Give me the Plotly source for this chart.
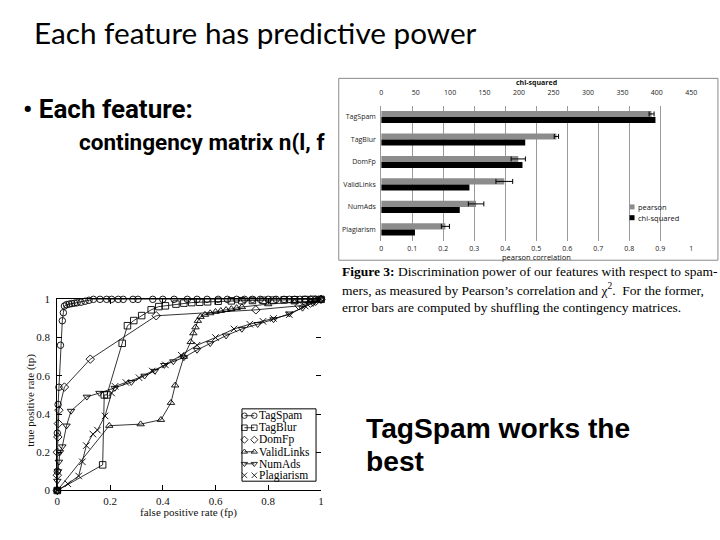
import plotly.graph_objects as go

W, H = 720, 540


def px(x):
    return x / W


def py(y):
    return 1 - y / H


# ---------------- data ----------------
features = ["TagSpam", "TagBlur", "DomFp", "ValidLinks", "NumAds", "Plagiarism"]
pearson = [0.872, 0.565, 0.442, 0.397, 0.306, 0.207]
pearson_err = [0.008, 0.007, 0.023, 0.027, 0.025, 0.013]
chi_squared = [398, 209, 205, 128, 114, 49]

tagspam_fp = [0, 0, 0, 0.003, 0.006, 0.012, 0.019, 0.023, 0.027, 0.035, 0.045, 0.055, 0.065,
              0.075, 0.09, 0.105, 0.12, 0.137, 0.162, 0.187, 0.206, 0.231, 0.25, 0.287, 0.306,
              0.362, 0.4, 0.443, 0.493, 0.53, 0.568, 0.61, 0.645, 0.68, 0.71, 0.74, 0.77, 0.8,
              0.83, 0.86, 0.88, 0.9, 0.92, 0.94, 0.96, 0.98, 1.0]
tagspam_tp = [0, 0.1, 0.3, 0.45, 0.54, 0.76, 0.888, 0.93, 0.965, 0.972, 0.975, 0.978, 0.98,
              0.982, 0.985, 0.99, 0.995, 1, 1, 1, 1, 1, 1, 1, 1, 1, 1, 1, 1, 1, 1, 1, 1, 1, 1,
              1, 1, 1, 1, 1, 1, 1, 1, 1, 1, 1, 1]

tagblur_fp = [0, 0.172, 0.178, 0.188, 0.246, 0.266, 0.29, 0.32, 0.356, 0.385, 0.41, 0.45, 0.48,
              0.51, 0.54, 0.57, 0.61, 0.66, 0.7, 0.74, 0.78, 0.82, 0.86, 0.9, 0.94, 0.97, 1.0]
tagblur_tp = [0, 0.134, 0.5, 0.5, 0.77, 0.862, 0.889, 0.915, 0.945, 0.962, 0.966, 0.975, 0.98,
              0.983, 0.985, 0.987, 0.99, 0.992, 0.993, 0.994, 0.995, 0.996, 0.997, 0.998, 0.999,
              1, 1]

domfp_fp = [0, 0, 0, 0.002, 0.004, 0.006, 0.027, 0.125, 0.375, 0.753, 0.917, 0.96, 0.98, 1.0]
domfp_tp = [0, 0.08, 0.2, 0.28, 0.35, 0.42, 0.541, 0.687, 0.914, 0.945, 0.966, 0.98, 0.99, 1.0]

validlinks_fp = [0, 0.197, 0.316, 0.393, 0.431, 0.447, 0.48, 0.506, 0.516, 0.524, 0.533, 0.543,
                 0.56, 0.58, 0.6, 0.62, 0.64, 0.66, 0.68, 0.7, 0.8, 0.9, 0.96, 1.0]
validlinks_tp = [0, 0.339, 0.347, 0.37, 0.459, 0.55, 0.70, 0.777, 0.823, 0.854, 0.888, 0.909,
                 0.92, 0.928, 0.935, 0.94, 0.945, 0.95, 0.955, 0.96, 0.975, 0.985, 0.99, 1.0]

numads_fp = [0, 0, 0.003, 0.006, 0.01, 0.019, 0.035, 0.052, 0.112, 0.16, 0.218, 0.281, 0.331,
             0.37, 0.406, 0.44, 0.48, 0.53, 0.58, 0.64, 0.7, 0.76, 0.82, 0.88, 0.93, 0.97, 1.0]
numads_tp = [0, 0.05, 0.1, 0.15, 0.2, 0.23, 0.339, 0.416, 0.49, 0.51, 0.536, 0.567, 0.6, 0.625,
             0.656, 0.675, 0.696, 0.735, 0.77, 0.81, 0.845, 0.87, 0.895, 0.925, 0.955, 0.98, 1.0]

plagiarism_fp = [0, 0.04, 0.081, 0.095, 0.11, 0.135, 0.152, 0.181, 0.206, 0.219, 0.26, 0.31,
                 0.36, 0.41, 0.47, 0.53, 0.6, 0.67, 0.73, 0.78, 0.82, 0.88, 0.94, 1.0]
plagiarism_tp = [0, 0.035, 0.076, 0.15, 0.235, 0.295, 0.316, 0.39, 0.51, 0.545, 0.565, 0.59,
                 0.625, 0.657, 0.708, 0.76, 0.8, 0.845, 0.87, 0.885, 0.9, 0.92, 0.965, 1.0]

roc_series = [
    ("TagSpam", tagspam_fp, tagspam_tp, "circle-open", True),
    ("TagBlur", tagblur_fp, tagblur_tp, "square-open", True),
    ("DomFp", domfp_fp, domfp_tp, "diamond-open", False),
    ("ValidLinks", validlinks_fp, validlinks_tp, "triangle-up-open", True),
    ("NumAds", numads_fp, numads_tp, "triangle-down-open", True),
    ("Plagiarism", plagiarism_fp, plagiarism_tp, "x-thin-open", False),
]

# ---------------- figure ----------------
fig = go.Figure()

SANS_SMALL = "Open Sans, Lato, sans-serif"
BAR_FONT = dict(family=SANS_SMALL, size=7, color="#222")
SERIF = "Liberation Serif, Times New Roman, serif"
NARROW_BOLD = "Roboto, Liberation Sans, Arial, sans-serif"

# bar chart
fig.add_trace(go.Bar(
    y=features, x=pearson, orientation="h", name="pearson",
    xaxis="x", yaxis="y", width=0.27, offset=-0.27,
    marker=dict(color="#8c8c8c", line=dict(width=0)),
    error_x=dict(type="data", array=pearson_err, color="black", thickness=1, width=2.5),
    showlegend=False,
))
fig.add_trace(go.Bar(
    y=features, x=chi_squared, orientation="h", name="chi-squared",
    xaxis="x2", yaxis="y", width=0.27, offset=0.0,
    marker=dict(color="black", line=dict(width=0)),
    showlegend=False,
))

# ROC curves
for name, fp, tp, sym, _ in roc_series:
    fig.add_trace(go.Scatter(
        x=fp, y=tp, mode="lines+markers", name=name,
        xaxis="x3", yaxis="y3", cliponaxis=False,
        line=dict(color="black", width=0.8),
        marker=dict(symbol=sym, size=6.5, color="black", line=dict(color="black", width=0.9)),
        showlegend=False,
    ))

# dummy trace for right-side ticks of ROC plot
fig.add_trace(go.Scatter(x=[], y=[], xaxis="x3", yaxis="y6", showlegend=False))

# manual ROC legend (pixel-space helper axes)
leg_rows = [419, 431.3, 443.6, 455.9, 468.2, 480]
for (name, fp, tp, sym, with_line), ry in zip(roc_series, leg_rows):
    fig.add_trace(go.Scatter(
        x=[244.5, 254.5], y=[ry, ry], mode="lines+markers" if with_line else "markers",
        xaxis="x5", yaxis="y5", cliponaxis=False, hoverinfo="skip",
        line=dict(color="black", width=0.8),
        marker=dict(symbol=sym, size=5.5, color="black", line=dict(color="black", width=0.8)),
        showlegend=False,
    ))

# manual bar legend
bar_leg = [("pearson", "#8c8c8c", 205.5), ("chi-squared", "black", 216.5)]
for name, col, ry in bar_leg:
    fig.add_trace(go.Scatter(
        x=[637], y=[ry], mode="markers", xaxis="x5", yaxis="y5", hoverinfo="skip",
        marker=dict(symbol="square", size=5, color=col), showlegend=False,
    ))


def note(x, y, text, font, xanchor="center", yanchor="middle", **kw):
    return dict(x=px(x), y=py(y), xref="paper", yref="paper", text=text, showarrow=False,
                xanchor=xanchor, yanchor=yanchor, font=font, **kw)


annotations = []
for (name, *_), ry in zip(roc_series, leg_rows):
    annotations.append(note(257.5, ry, name, dict(family=SERIF, size=11.5, color="black"),
                            xanchor="left"))
for name, col, ry in bar_leg:
    annotations.append(note(641, ry, name, dict(family=SANS_SMALL, size=7.5, color="#111"),
                            xanchor="left"))

# axis titles
annotations += [
    note(540, 78.5, "<b>chi-squared</b>", dict(family=SANS_SMALL, size=7, color="#111")),
    note(540, 257, "pearson correlation", dict(family=SANS_SMALL, size=7.5, color="#111")),
    note(188, 518, "false positive rate (fp)", dict(family=SERIF, size=11, color="#111")),
    note(27, 403, "true positive rate (tp)", dict(family=SERIF, size=11, color="#111"),
         textangle=-90),
]

# slide text
annotations += [
    note(29, 27, "Each feature has predictive power",
         dict(family="Lato, Open Sans, sans-serif", size=29.7, color="black"), xanchor="left"),
    note(18, 105, "<b>• Each feature:</b>",
         dict(family=NARROW_BOLD, size=26, color="black"), xanchor="left"),
    note(75, 139, "<b>contingency matrix n(l, f</b>",
         dict(family=NARROW_BOLD, size=22.5, color="black"), xanchor="left"),
    note(366, 432, "<b>TagSpam works the</b>",
         dict(family="Liberation Sans, Arial, sans-serif", size=28.2, color="black"), xanchor="left"),
    note(366, 465, "<b>best</b>",
         dict(family="Liberation Sans, Arial, sans-serif", size=28.2, color="black"), xanchor="left"),
    note(341, 272, "<b>Figure 3:</b> Discrimination power of our features with respect to spam-",
         dict(family=SERIF, size=13.5, color="black"), xanchor="left"),
    note(341, 290, "mers, as measured by Pearson’s correlation and χ<sup>2</sup>.  For the former,",
         dict(family=SERIF, size=13.5, color="black"), xanchor="left"),
    note(341, 308, "error bars are computed by shuffling the contingency matrices.",
         dict(family=SERIF, size=13.5, color="black"), xanchor="left"),
]

shapes = [
    # frame of bar chart figure
    dict(type="rect", xref="paper", yref="paper", x0=px(340), x1=px(724), y0=py(260), y1=py(74),
         line=dict(color="#8a8a8a", width=1), layer="below"),
    # ROC legend box
    dict(type="rect", xref="paper", yref="paper", x0=px(242), x1=px(317), y0=py(486), y1=py(412),
         line=dict(color="black", width=1), fillcolor="white", layer="below"),
]

fig.update_layout(
    width=W, height=H, autosize=False,
    margin=dict(l=0, r=0, t=0, b=0),
    paper_bgcolor="white", plot_bgcolor="rgba(0,0,0,0)",
    showlegend=False,
    annotations=annotations, shapes=shapes,
    # bar chart axes
    xaxis=dict(domain=[px(383), px(697)], anchor="y", range=[0, 1], dtick=0.1,
               showgrid=True, gridcolor="#9a9a9a", gridwidth=1, zeroline=False,
               showline=False, ticks="", tickfont=BAR_FONT, ticklabelstandoff=2),
    xaxis2=dict(overlaying="x", side="top", anchor="y", range=[0, 450], dtick=50,
                showgrid=False, zeroline=False, showline=False, ticks="",
                tickfont=BAR_FONT, ticklabelstandoff=8),
    yaxis=dict(domain=[py(240), py(102)], anchor="x", type="category",
               range=[5.5, -0.5], showgrid=False, zeroline=False,
               showline=True, linecolor="#9a9a9a", linewidth=1, ticks="",
               tickfont=BAR_FONT, ticklabelstandoff=3),
    # ROC axes
    xaxis3=dict(domain=[px(55), px(322)], anchor="y3", range=[0, 1], dtick=0.2,
                showgrid=False, zeroline=False, showline=True, mirror="ticks",
                linecolor="black", linewidth=1, ticks="inside", ticklen=5, tickcolor="black",
                tickfont=dict(family=SERIF, size=11, color="#111")),
    yaxis3=dict(domain=[py(495.5), py(300)], anchor="x3", range=[0, 1], dtick=0.2,
                showgrid=False, zeroline=False, showline=True, mirror=False,
                linecolor="black", linewidth=1, ticks="inside", ticklen=5, tickcolor="black",
                tickfont=dict(family=SERIF, size=11, color="#111"), ticklabelstandoff=4),
    yaxis6=dict(overlaying="y3", side="right", anchor="x3", range=[0, 1], dtick=0.2,
                showgrid=False, zeroline=False, showline=False, ticks="inside", ticklen=5,
                tickcolor="black", showticklabels=False),
    # pixel-space helper axes for legend samples
    xaxis5=dict(domain=[0, 1], anchor="y5", range=[0, W], visible=False, fixedrange=True),
    yaxis5=dict(domain=[0, 1], anchor="x5", range=[H, 0], visible=False, fixedrange=True),
)

fig.write_html("out.html", config={"displayModeBar": False},
               post_script="document.body.style.margin='0';")
